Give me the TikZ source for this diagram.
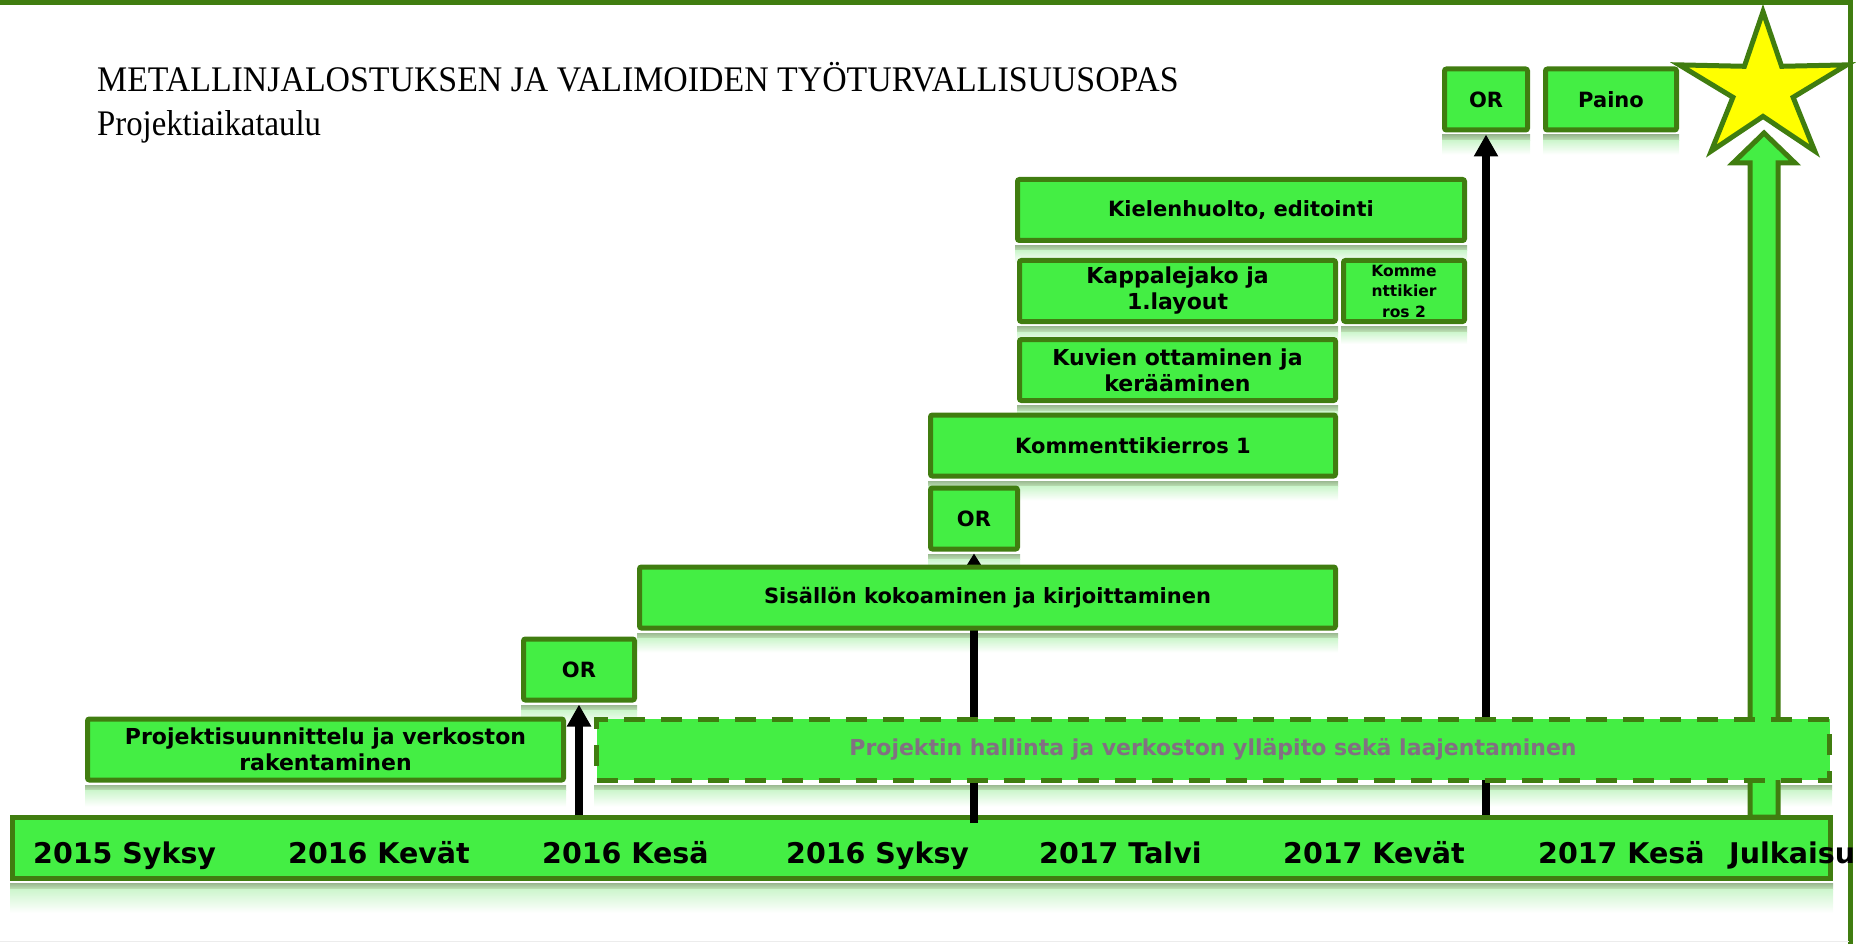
\documentclass[tikz,border=0pt]{standalone}
\usepackage{fontspec}
\usepackage{graphicx}
\usetikzlibrary{arrows.meta}
\newfontfamily\boxfont{DejaVu Sans}
\newfontfamily\titlefont{Liberation Serif}
\definecolor{boxfill}{RGB}{68,238,68}
\definecolor{boxline}{RGB}{64,125,16}
\definecolor{reflA}{RGB}{155,185,145}
\definecolor{reflM}{RGB}{190,228,182}
\definecolor{reflB}{RGB}{205,246,205}
\definecolor{graytext}{RGB}{130,112,130}
\definecolor{staryellow}{RGB}{255,255,0}
\pgfdeclarelayer{bg}
\pgfdeclarelayer{mid}
\pgfsetlayers{bg,mid,main}
\tikzset{
  gbox/.style={draw=boxline, fill=boxfill, line width=5pt, rounded corners=2pt,
    inner sep=0pt, align=center, font=\boxfont\bfseries\fontsize{21}{26}\selectfont},
  bigtext/.style={font=\boxfont\bfseries\fontsize{22}{26}\selectfont},
  dbox/.style={gbox, bigtext, rounded corners=0pt, dash pattern=on 21pt off 16pt, text=graytext},
  reflband/.style={top color=reflA, bottom color=reflM, draw=none},
  reflfade/.style={top color=reflB, bottom color=white, draw=none},
  blk/.style={line width=8pt, draw=black},
  barlabel/.style={anchor=base west, inner sep=0pt, font=\boxfont\bfseries\fontsize{28.5}{32}\selectfont},
  frameline/.style={draw=boxline, line width=5pt},
}
\newcommand{\mirrorbelow}[2]{%
  \path[reflband] ([yshift=-2.5pt]#1.south west) rectangle ([yshift=-8pt]#1.south east);
  \path[reflfade] ([yshift=-8pt]#1.south west) rectangle ([yshift=-#2]#1.south east);}
\begin{document}
\begin{tikzpicture}[x=1pt,y=-1pt]
\useasboundingbox (0,0) rectangle (1856,944);

% frame
\begin{pgfonlayer}{bg}
\draw[frameline] (0,3) -- (1850.5,3) -- (1850.5,944);
\draw[gray!15, line width=1.5pt] (0,941.5) -- (1849,941.5);
\end{pgfonlayer}

% title
\node[anchor=base west, inner sep=0pt, font=\titlefont\fontsize{36}{40}\selectfont] (title) at (97,92)
  {\scalebox{0.94}[1]{METALLINJALOSTUKSEN JA VALIMOIDEN TYÖTURVALLISUUSOPAS}};
\node[anchor=base west, inner sep=0pt, font=\titlefont\fontsize{36}{40}\selectfont] (subtitle) at (97,136)
  {\scalebox{0.91}[1]{Projektiaikataulu}};

% timeline bar
\begin{pgfonlayer}{bg}
\node[gbox, rounded corners=0pt, minimum width=1818pt, minimum height=61pt] (bar) at (921.5,848) {};
\end{pgfonlayer}

% boxes
\node[gbox, bigtext, minimum width=476pt, minimum height=61pt] (proj) at (325.5,749.5)
  {Projektisuunnittelu ja verkoston\\rakentaminen};
\node[gbox, minimum width=111pt, minimum height=61pt] (or1) at (579,669.5) {OR};
\node[dbox, minimum width=1233pt, minimum height=61pt] (hall) at (1213,749.5)
  {Projektin hallinta ja verkoston ylläpito sekä laajentaminen};
\node[gbox, minimum width=696pt, minimum height=61pt] (sis) at (987.5,597.5)
  {Sisällön kokoaminen ja kirjoittaminen};
\node[gbox, minimum width=87pt, minimum height=61pt] (or2) at (974,518.5) {OR};
\node[gbox, minimum width=405pt, minimum height=61pt] (komm1) at (1133,445.5) {Kommenttikierros 1};
\node[gbox, bigtext, minimum width=316pt, minimum height=61pt] (kuv) at (1177.5,370)
  {Kuvien ottaminen ja\\kerääminen};
\node[gbox, bigtext, minimum width=316pt, minimum height=61pt] (kap) at (1177.5,291)
  {Kappalejako ja\\1.layout};
\node[gbox, minimum width=121pt, minimum height=61pt, font=\boxfont\bfseries\fontsize{15.5}{20.5}\selectfont] (komm2) at (1404,291)
  {Komme\\nttikier\\ros 2};
\node[gbox, minimum width=447pt, minimum height=61pt] (kiel) at (1241,210) {Kielenhuolto, editointi};
\node[gbox, minimum width=83pt, minimum height=61pt] (or3) at (1486,99.5) {OR};
\node[gbox, minimum width=131pt, minimum height=61pt] (paino) at (1611,99.5) {Paino};

% reflections
\begin{pgfonlayer}{bg}
\mirrorbelow{bar}{32pt}
\mirrorbelow{proj}{24pt}
\mirrorbelow{or1}{22pt}
\mirrorbelow{hall}{24pt}
\mirrorbelow{sis}{22pt}
\mirrorbelow{or2}{20pt}
\mirrorbelow{komm1}{22pt}
\mirrorbelow{kuv}{20pt}
\mirrorbelow{kap}{20pt}
\mirrorbelow{komm2}{20pt}
\mirrorbelow{kiel}{20pt}
\mirrorbelow{or3}{22pt}
\mirrorbelow{paino}{22pt}
\end{pgfonlayer}

% connectors
\begin{pgfonlayer}{mid}
\draw[blk, -{Triangle[length=22pt,width=23pt]}] (or1.south |- bar.north) -- ([yshift=-2pt]or1.south);
\draw[blk, -{Triangle[length=12pt,width=14pt]}] ([yshift=-8pt]or2.south |- bar.north) -- ([yshift=-2pt]or2.south);
\draw[blk, -{Triangle[length=22pt,width=23pt]}] (or3.south |- bar.north) -- ([yshift=-2pt]or3.south);
% big block arrow to the star
\coordinate (bigbase) at (1764,817);
\coordinate (bigtip) at (1764,133);
\draw[draw=boxline, fill=boxfill, line width=5pt, line join=miter]
  ([xshift=-14pt]bigbase) -- ([xshift=-14pt]bigbase |- 0,163) -- ([xshift=-31pt]bigbase |- 0,163)
  -- (bigtip) -- ([xshift=31pt]bigbase |- 0,163) -- ([xshift=14pt]bigbase |- 0,163)
  -- ([xshift=14pt]bigbase) -- cycle;
\end{pgfonlayer}

% star
\draw[draw=boxline, fill=staryellow, line width=5pt, line join=miter]
  (1763,11.7) -- (1744.4,66.3) -- (1679.3,64.9) -- (1732.9,97.3) -- (1711.3,151.0)
  -- (1763,116.4) -- (1814.7,151.0) -- (1793.1,97.3) -- (1846.7,64.9) -- (1781.6,66.3) -- cycle;

% timeline labels
\node[barlabel] (t1) at (33,863) {2015 Syksy};
\node[barlabel] (t2) at (288,863) {2016 Kevät};
\node[barlabel] (t3) at (542,863) {2016 Kesä};
\node[barlabel] (t4) at (786,863) {2016 Syksy};
\node[barlabel] (t5) at (1039,863) {2017 Talvi};
\node[barlabel] (t6) at (1283,863) {2017 Kevät};
\node[barlabel] (t7) at (1538,863) {2017 Kesä};
\node[barlabel] (t8) at (1729,863) {Julkaisu};
\end{tikzpicture}
\end{document}
